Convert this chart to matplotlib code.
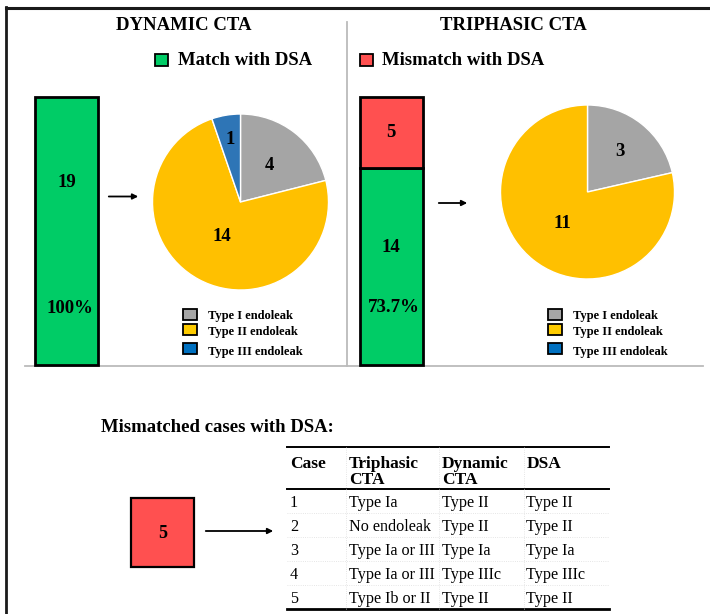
import numpy as np
import matplotlib.pyplot as plt
from matplotlib.patches import Rectangle

plt.rcParams['font.family'] = ['Liberation Serif', 'DejaVu Serif']

# bar data: total cases, split by match/mismatch with DSA
dyn_match = [19]
tri_match = [14]
tri_mismatch = [5]
dyn_pct = '100%'
tri_pct = '73.7%'

# endoleak types among matched cases
types = ['Type I endoleak', 'Type II endoleak', 'Type III endoleak']
dyn_pie = [4, 14, 1]
tri_pie = [3, 11, 0]

# mismatched cases table
cols = ['Case', 'Triphasic\nCTA', 'Dynamic\nCTA', 'DSA']
case_no = ['1', '2', '3', '4', '5']
tri_res = ['Type Ia', 'No endoleak', 'Type Ia or III', 'Type Ia or III', 'Type Ib or II']
dyn_res = ['Type II', 'Type II', 'Type Ia', 'Type IIIc', 'Type II']
dsa_res = ['Type II', 'Type II', 'Type Ia', 'Type IIIc', 'Type II']

GREEN = '#00CC66'
RED = '#FF5050'
PIE_COLS = ['#A5A5A5', '#FFC000', '#2E75B6']
LEG_COLS = ['#A6A6A6', '#FFCC00', '#0070C0']

W, H = 710, 614
fig = plt.figure(figsize=(W / 100, H / 100), dpi=100)

# full-figure axes in pixel units for text, lines and arrows
bg = fig.add_axes([0, 0, 1, 1])
bg.set_xlim(0, W)
bg.set_ylim(H, 0)
bg.axis('off')

def px_axes(x0, y0, x1, y1):
    return fig.add_axes([x0 / W, 1 - y1 / H, (x1 - x0) / W, (y1 - y0) / H])

# frame and separators
bg.plot([6, 6], [7, H], color='#1a1a1a', lw=2)
bg.plot([6, W], [7.5, 7.5], color='#1a1a1a', lw=2.2)
bg.plot([347, 347], [22, 366], color='#bbbbbb', lw=1.3)
bg.plot([25, 703], [366, 366], color='#bbbbbb', lw=1.3)

bold = dict(fontweight='bold', ha='center', va='center')
bg.text(184, 25, 'DYNAMIC CTA', fontsize=13.5, **bold)
bg.text(513, 25, 'TRIPHASIC CTA', fontsize=13.5, **bold)

# match / mismatch legend
bg.add_patch(Rectangle((154.5, 54), 13.5, 12, fc=GREEN, ec='black', lw=1.3))
bg.text(178, 60.5, 'Match with DSA', fontsize=13.5, fontweight='bold', va='center')
bg.add_patch(Rectangle((359.5, 54), 13.5, 12, fc=RED, ec='black', lw=1.3))
bg.text(382, 60.5, 'Mismatch with DSA', fontsize=13.5, fontweight='bold', va='center')

# bars
ax1 = px_axes(35, 97, 98, 365)
ax1.bar(0, dyn_match, width=1, color=GREEN, edgecolor='black', lw=2, clip_on=False)
ax2 = px_axes(359.5, 97, 422.5, 365)
ax2.bar(0, tri_match, width=1, color=GREEN, edgecolor='black', lw=2, clip_on=False)
ax2.bar(0, tri_mismatch, bottom=tri_match, width=1, color=RED, edgecolor='black', lw=2,
        clip_on=False)
for a in (ax1, ax2):
    a.set_xlim(-0.5, 0.5)
    a.set_ylim(0, sum(tri_match) + sum(tri_mismatch))
    a.axis('off')

ax1.text(0, 19 * 0.68, str(dyn_match[0]), fontsize=13.5, **bold)
ax1.text(0.05, 19 * 0.21, dyn_pct, fontsize=13.5, **bold)
ax2.text(0, tri_match[0] + tri_mismatch[0] / 2, str(tri_mismatch[0]), fontsize=13.5, **bold)
ax2.text(0, 19 * 0.44, str(tri_match[0]), fontsize=13.5, **bold)
ax2.text(0.05, 19 * 0.215, tri_pct, fontsize=13.5, **bold)

# arrows
arr = dict(arrowstyle='-|>', color='black', lw=1.3, mutation_scale=8)
bg.annotate('', xy=(141, 196.5), xytext=(106, 196.5), arrowprops=arr)
bg.annotate('', xy=(470, 203), xytext=(436, 203), arrowprops=arr)
bg.annotate('', xy=(276, 531), xytext=(203, 531), arrowprops=arr)

# pies
def draw_pie(cx, cy, r, vals, label_r):
    ax = px_axes(cx - r, cy - r, cx + r, cy + r)
    keep = [i for i, v in enumerate(vals) if v > 0]
    wedges, _ = ax.pie([vals[i] for i in keep], colors=[PIE_COLS[i] for i in keep],
                       startangle=90, counterclock=False, radius=1,
                       wedgeprops=dict(edgecolor='white', lw=1))
    for w, i, lr in zip(wedges, keep, label_r):
        ang = np.deg2rad((w.theta1 + w.theta2) / 2)
        ax.text(lr * np.cos(ang), lr * np.sin(ang), str(vals[i]), fontsize=13.5, **bold)
    ax.set_xlim(-1, 1)
    ax.set_ylim(-1, 1)
    ax.set_aspect('equal')
    ax.axis('off')

draw_pie(240.5, 202, 88, dyn_pie, [0.53, 0.45, 0.72])
draw_pie(587.5, 192, 87, tri_pie, [0.6, 0.46])

# endoleak type legends
for lx in (183, 548):
    for k, (name, sy, ty) in enumerate(zip(types, [308.5, 323.5, 343], [315.5, 332.5, 352])):
        bg.add_patch(Rectangle((lx, sy), 13.5, 11, fc=LEG_COLS[k], ec='black', lw=1.3))
        bg.text(lx + 25, ty, name, fontsize=9, fontweight='bold', va='center')

# mismatched cases section
bg.text(101, 428, 'Mismatched cases with DSA:', fontsize=13.5, fontweight='bold', va='center')
bg.add_patch(Rectangle((131, 498), 63, 69, fc=RED, ec='black', lw=1.6))
bg.text(163, 533, str(tri_mismatch[0]), fontsize=13, **bold)

# table
col_x = [290, 349, 442, 526.5]
tx0, tx1 = 287, 609
top, head_bot, row_h = 447, 489, 24
bg.plot([tx0, tx1], [top, top], color='black', lw=1.4)
bg.plot([tx0, tx1], [head_bot, head_bot], color='black', lw=1.4)
bottom = head_bot + row_h * len(case_no)
bg.plot([tx0, tx1], [bottom, bottom], color='black', lw=2)
for k in range(1, len(case_no)):
    y = head_bot + k * row_h
    bg.plot([tx0, tx1], [y, y], color='#dddddd', lw=0.6, ls=':')
for vx in (346, 439, 524):
    bg.plot([vx, vx], [top, bottom], color='#dddddd', lw=0.6, ls=':')

for x, c in zip(col_x, cols):
    for j, line in enumerate(c.split('\n')):
        bg.text(x, 468 + 15.5 * j, line, fontsize=12.5, fontweight='bold',
                va='baseline', ha='left')
rows = list(zip(case_no, tri_res, dyn_res, dsa_res))
for k, row in enumerate(rows):
    y = head_bot + k * row_h + 18
    for x, v in zip(col_x, row):
        bg.text(x, y, v, fontsize=11.6, va='baseline', ha='left')

fig.savefig('out.png', dpi=100)
